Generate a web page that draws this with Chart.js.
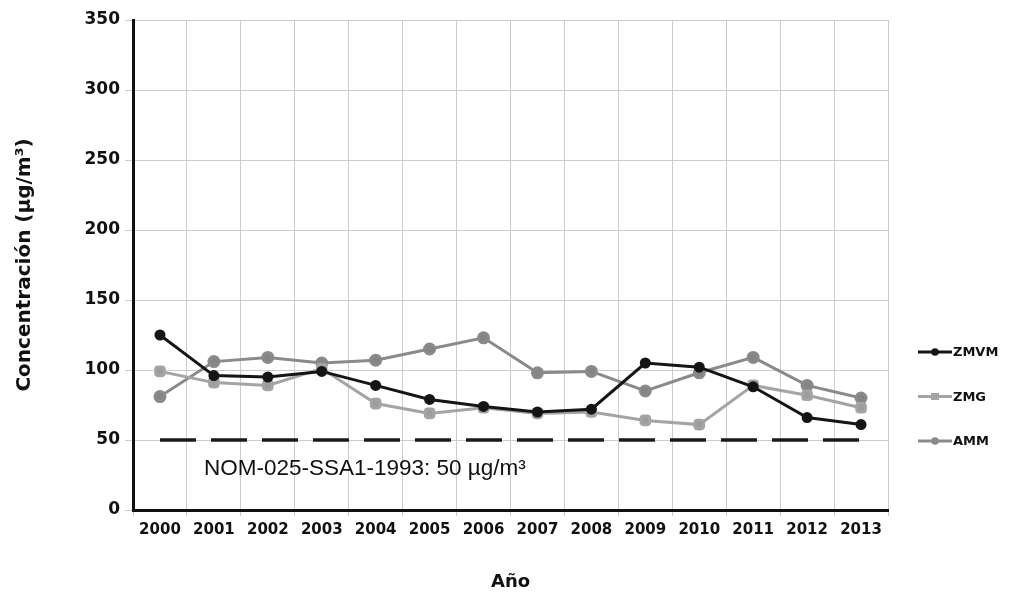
<!DOCTYPE html>
<html lang="es">
<head>
<meta charset="UTF-8">
<title>Concentración PM10</title>
<script src="https://cdn.jsdelivr.net/npm/chart.js"></script>
<style>
  body { margin: 0; background: #fff; }
  #wrap { width: 1013px; height: 597px; }
</style>
</head>
<body>
<div id="wrap"><canvas id="chart" width="1013" height="597"></canvas></div>
<script>
const years = ["2000","2001","2002","2003","2004","2005","2006","2007","2008","2009","2010","2011","2012","2013"];
const zmvm = [125, 96, 95, 99, 89, 79, 74, 70, 72, 105, 102, 88, 66, 61];
const zmg  = [99, 91, 89, 101, 76, 69, 73, 69, 70, 64, 61, 89, 82, 73];
const amm  = [81, 106, 109, 105, 107, 115, 123, 98, 99, 85, 98, 109, 89, 80];
const normLimit = [50, 50, 50, 50, 50, 50, 50, 50, 50, 50, 50, 50, 50, 50];
const normLabel = "NOM-025-SSA1-1993: 50 µg/m³";
const yTicks = [0, 50, 100, 150, 200, 250, 300, 350];

const FONT = "'Liberation Sans', Arial, sans-serif";
const BOLD = "'DejaVu Sans', Arial, sans-serif";

// legend drawn by hand, to the right of the plot
const sideLegend = {
    id: "sideLegend",
    afterDraw(chart) {
        const ctx = chart.ctx;
        const items = [
            { label: "ZMVM", color: "#151515", style: "circle" },
            { label: "ZMG", color: "#a4a4a4", style: "rect" },
            { label: "AMM", color: "#8a8a8a", style: "circle" }
        ];
        ctx.save();
        items.forEach((it, i) => {
            const y = 352 + i * 44.5;
            ctx.strokeStyle = it.color;
            ctx.fillStyle = it.color;
            ctx.lineWidth = 3;
            ctx.beginPath();
            ctx.moveTo(918, y);
            ctx.lineTo(952, y);
            ctx.stroke();
            ctx.beginPath();
            if (it.style === "rect") ctx.rect(931, y - 3.5, 8, 7);
            else ctx.arc(935, y, 3.8, 0, Math.PI * 2);
            ctx.fill();
            ctx.fillStyle = "#111";
            ctx.font = "bold 13px " + BOLD;
            ctx.textBaseline = "middle";
            ctx.fillText(it.label, 953, y + 1);
        });
        ctx.restore();
    }
};

// text under the norm line
const normText = {
    id: "normText",
    afterDatasetsDraw(chart) {
        const ctx = chart.ctx;
        const x = chart.scales.x.getPixelForValue(0) + 44;
        const y = chart.scales.y.getPixelForValue(normLimit[0]) + 29;
        ctx.save();
        ctx.fillStyle = "#111";
        ctx.font = "22.5px " + FONT;
        ctx.textBaseline = "middle";
        ctx.fillText(normLabel, x, y);
        ctx.restore();
    }
};

new Chart(document.getElementById("chart"), {
    type: "line",
    data: {
        labels: years,
        datasets: [
            { label: "ZMVM", data: zmvm, borderColor: "#151515", backgroundColor: "#151515",
              borderWidth: 3, pointRadius: 4, pointStyle: "circle", tension: 0 },
            { label: "ZMG", data: zmg, borderColor: "#a4a4a4", backgroundColor: "#9c9c9c",
              borderWidth: 3, pointRadius: 5, pointStyle: "rectRounded", tension: 0 },
            { label: "AMM", data: amm, borderColor: "#8a8a8a", backgroundColor: "#858585",
              borderWidth: 3, pointRadius: 5, pointStyle: "circle", tension: 0 },
            { label: "Norma", data: normLimit, borderColor: "#1a1a1a", borderWidth: 3.5,
              borderDash: [36, 15], pointRadius: 0, tension: 0 }
        ]
    },
    options: {
        responsive: false,
        animation: false,
        layout: { padding: { top: 20, right: 125, left: 0, bottom: 0 } },
        plugins: { legend: { display: false }, tooltip: { enabled: false } },
        scales: {
            x: {
                offset: true,
                grid: { offset: true, color: "#cccccc", lineWidth: 1, tickLength: 6 },
                border: { color: "#111", width: 3 },
                ticks: { color: "#111", font: { family: BOLD, size: 15, weight: "bold" },
                         padding: 5, maxRotation: 0, autoSkip: false },
                title: { display: true, text: "Año", color: "#111",
                         font: { family: BOLD, size: 18, weight: "bold" }, padding: { top: 18 } },
                afterFit(s) { s.height = 87; }
            },
            y: {
                min: 0, max: 350,
                afterBuildTicks(s) { s.ticks = yTicks.map(v => ({ value: v })); },
                grid: { color: "#cccccc", lineWidth: 1, tickLength: 8 },
                border: { color: "#111", width: 3 },
                ticks: { color: "#111", font: { family: BOLD, size: 17, weight: "bold" }, padding: 5 },
                title: { display: true, text: "Concentración (µg/m³)", color: "#111",
                         font: { family: BOLD, size: 20, weight: "bold" }, padding: { top: 13, bottom: 0 } },
                afterFit(s) { s.width = 133; }
            }
        }
    },
    plugins: [normText, sideLegend]
});
</script>
</body>
</html>
